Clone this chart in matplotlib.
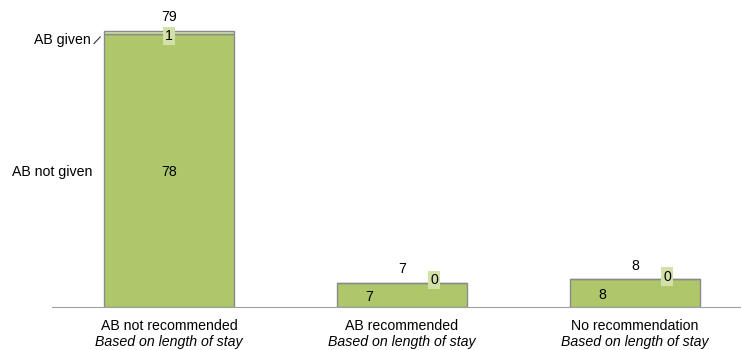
import matplotlib.pyplot as plt
import numpy as np

plt.rcParams['font.family'] = ['Liberation Sans', 'DejaVu Sans']

categories = ['AB not recommended', 'AB recommended', 'No recommendation']
subtitles = ['Based on length of stay', 'Based on length of stay', 'Based on length of stay']
not_given = [78, 7, 8]
given = [1, 0, 0]
totals = [a + b for a, b in zip(not_given, given)]

green = '#aec76a'
light = '#d3e1a8'
edge = '#8a8a8a'

fig = plt.figure(figsize=(7.41, 3.5), dpi=100)
ax = fig.add_axes([52 / 741, 43 / 350, 689 / 741, 297 / 350])

x = np.arange(len(categories))
w = 0.56
ax.bar(x, not_given, w, color=green, edgecolor=edge, linewidth=1)
ax.bar(x, given, w, bottom=not_given, color=light, edgecolor=edge, linewidth=1)

ax.set_xlim(-0.502, 2.455)
ax.set_ylim(0, 84.9)

for s in ['top', 'right', 'left']:
    ax.spines[s].set_visible(False)
ax.spines['bottom'].set_color('#a0a0a0')
ax.set_xticks([])
ax.set_yticks([])

fs = 10.2
box = dict(boxstyle='square,pad=0.15', fc=light, ec='none')
for i in range(len(categories)):
    ax.text(x[i], totals[i] + 3.8, str(totals[i]), ha='center', va='center', fontsize=fs)
    if i == 0:
        ax.text(x[i], not_given[i] / 2 - 0.5, str(not_given[i]), ha='center', va='center', fontsize=fs)
        ax.text(x[i], not_given[i] - 0.6, str(given[i]), ha='center', va='center', fontsize=fs, bbox=box)
    else:
        ax.text(x[i] - 0.14, not_given[i] / 2 - 0.6, str(not_given[i]), ha='center', va='center', fontsize=fs)
        ax.text(x[i] + 0.137, not_given[i] + 0.7, str(given[i]), ha='center', va='center', fontsize=fs, bbox=box)
    ax.text(x[i], -5.5, categories[i], ha='center', va='center', fontsize=fs)
    ax.text(x[i], -10.1, subtitles[i], ha='center', va='center', fontsize=fs, style='italic')

# series labels on the left
ax.text(-0.335, 76.2, 'AB given', ha='right', va='center', fontsize=fs)
ax.plot([-0.322, -0.295], [75.3, 77.2], color='#333333', lw=0.8, clip_on=False)
ax.text(-0.33, 38.6, 'AB not given', ha='right', va='center', fontsize=fs)

fig.savefig('out.png', dpi=100)
